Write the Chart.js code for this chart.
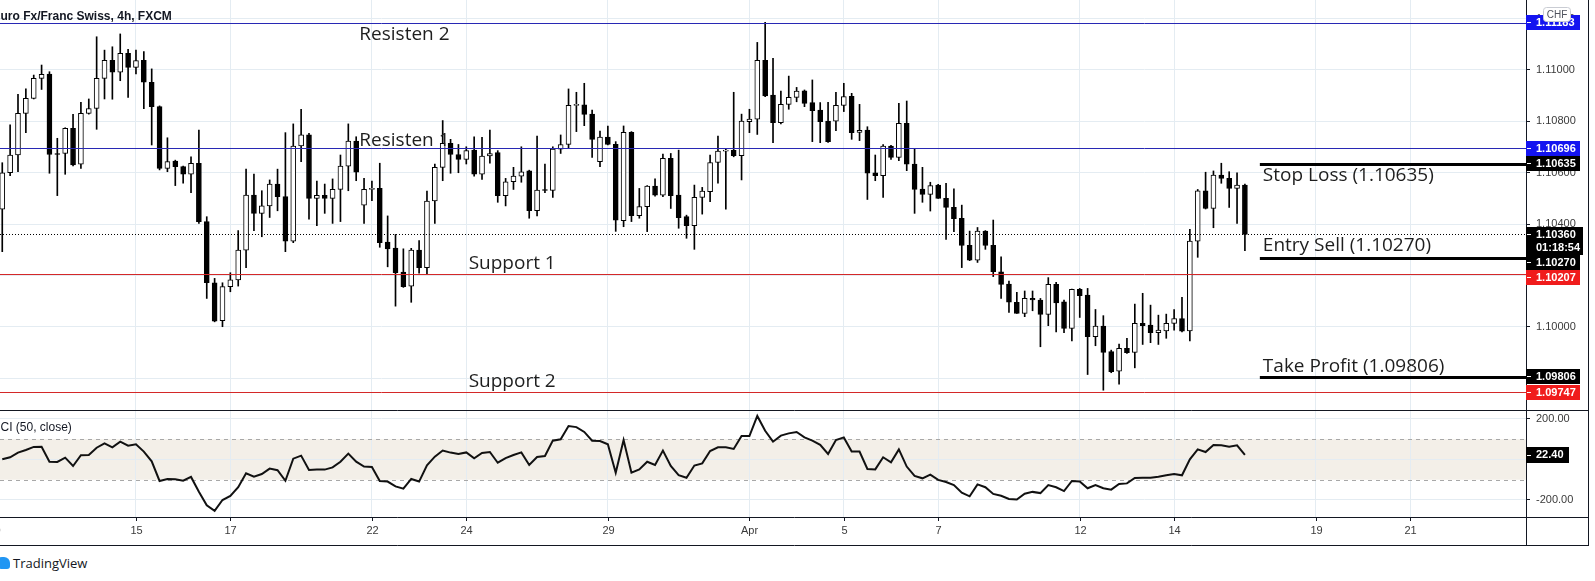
<!DOCTYPE html>
<html>
<head>
<meta charset="utf-8">
<script src="https://cdn.jsdelivr.net/npm/chart.js@4.4.0/dist/chart.umd.min.js"></script>
<style>
  body { margin: 0; background: #fff; width: 1595px; height: 581px; overflow: hidden; position: relative; }
  #main { position: absolute; left: 0; top: 0; }
  #osc { position: absolute; left: 0; top: 410px; }
  #logo { position: absolute; left: -4px; top: 557px; width: 14px; height: 12px; background: #2196f3; border-radius: 6px 6px 3px 6px; }
  #brand { position: absolute; left: 13px; top: 554px; font: 13px "Open Sans", sans-serif; color: #131722; }
</style>
</head>
<body>
<canvas id="main" width="1595" height="410"></canvas>
<canvas id="osc" width="1595" height="136"></canvas>
<div id="logo"></div>
<div id="brand">TradingView</div>
<script>
// EURCHF 4h, FXCM - candles start at the 2nd bar of Mar 10
const barsPerDay = 6;
const firstBar = 1;
const dayLabels = ['10', '15', '17', '22', '24', '29', 'Apr', '5', '7', '12', '14', '19', '21'];
const dayOffsets = [0, 3, 5, 8, 10, 13, 16, 18, 20, 23, 25, 28, 30];

const opens = [
  1.10458, 1.10600, 1.10669, 1.10831, 1.10889, 1.10967, 1.10984, 1.10675, 1.10675, 1.10773,
  1.10633, 1.10831, 1.10850, 1.10967, 1.11037, 1.10991, 1.11065, 1.11010, 1.11037, 1.10952,
  1.10857, 1.10617, 1.10645, 1.10624, 1.10594, 1.10637, 1.10410, 1.10172, 1.10025, 1.10157,
  1.10183, 1.10299, 1.10513, 1.10442, 1.10471, 1.10556, 1.10507, 1.10334, 1.10704, 1.10747,
  1.10500, 1.10512, 1.10500, 1.10535, 1.10626, 1.10723, 1.10474, 1.10535, 1.10539, 1.10330,
  1.10307, 1.10214, 1.10159, 1.10299, 1.10231, 1.10490, 1.10621, 1.10714, 1.10671, 1.10652,
  1.10688, 1.10594, 1.10665, 1.10678, 1.10511, 1.10565, 1.10587, 1.10607, 1.10452, 1.10533,
  1.10531, 1.10692, 1.10710, 1.10862, 1.10864, 1.10828, 1.10643, 1.10739, 1.10711, 1.10414,
  1.10757, 1.10433, 1.10468, 1.10548, 1.10513, 1.10656, 1.10513, 1.10429, 1.10394, 1.10504,
  1.10526, 1.10640, 1.10684, 1.10687, 1.10666, 1.10799, 1.10808, 1.11037, 1.10902, 1.10795,
  1.10866, 1.10893, 1.10919, 1.10873, 1.10844, 1.10801, 1.10801, 1.10862, 1.10897, 1.10757,
  1.10766, 1.10600, 1.10589, 1.10704, 1.10660, 1.10792, 1.10634, 1.10536, 1.10516, 1.10552,
  1.10500, 1.10465, 1.10423, 1.10318, 1.10260, 1.10373, 1.10318, 1.10215, 1.10167, 1.10096,
  1.10053, 1.10111, 1.10105, 1.10049, 1.10166, 1.10098, 1.09994, 1.10146, 1.10124, 1.09962,
  1.10003, 1.09904, 1.09828, 1.09917, 1.09901, 1.10014, 1.10007, 1.09978, 1.09985, 1.10014,
  1.10033, 1.09985, 1.10334, 1.10530, 1.10461, 1.10591, 1.10578, 1.10539, 1.10552
];
const highs = [
  1.10639, 1.10786, 1.10905, 1.10926, 1.10980, 1.11019, 1.10993, 1.10734, 1.10775, 1.10827,
  1.10874, 1.10887, 1.11129, 1.11077, 1.11090, 1.11140, 1.11080, 1.11077, 1.11071, 1.11004,
  1.10860, 1.10736, 1.10649, 1.10626, 1.10662, 1.10766, 1.10429, 1.10189, 1.10172, 1.10211,
  1.10375, 1.10614, 1.10595, 1.10530, 1.10572, 1.10614, 1.10756, 1.10790, 1.10847, 1.10753,
  1.10568, 1.10556, 1.10576, 1.10669, 1.10790, 1.10740, 1.10578, 1.10568, 1.10637, 1.10432,
  1.10360, 1.10304, 1.10306, 1.10336, 1.10529, 1.10634, 1.10803, 1.10730, 1.10710, 1.10701,
  1.10740, 1.10738, 1.10766, 1.10686, 1.10578, 1.10621, 1.10701, 1.10610, 1.10743, 1.10634,
  1.10701, 1.10747, 1.10926, 1.10913, 1.10948, 1.10844, 1.10762, 1.10782, 1.10721, 1.10782,
  1.10760, 1.10539, 1.10550, 1.10576, 1.10673, 1.10675, 1.10688, 1.10435, 1.10552, 1.10543,
  1.10669, 1.10743, 1.10691, 1.10913, 1.10828, 1.10847, 1.11107, 1.11185, 1.11045, 1.10918,
  1.10976, 1.10932, 1.10922, 1.10961, 1.10873, 1.10874, 1.10913, 1.10948, 1.10909, 1.10866,
  1.10779, 1.10669, 1.10710, 1.10707, 1.10870, 1.10879, 1.10695, 1.10621, 1.10563, 1.10555,
  1.10559, 1.10537, 1.10474, 1.10373, 1.10387, 1.10375, 1.10416, 1.10273, 1.10179, 1.10135,
  1.10140, 1.10140, 1.10111, 1.10192, 1.10174, 1.10105, 1.10147, 1.10150, 1.10150, 1.10068,
  1.10044, 1.09910, 1.09933, 1.09956, 1.10089, 1.10131, 1.10085, 1.10046, 1.10050, 1.10068,
  1.10115, 1.10380, 1.10535, 1.10602, 1.10607, 1.10637, 1.10604, 1.10600, 1.10556
];
const lows = [
  1.10293, 1.10589, 1.10604, 1.10756, 1.10887, 1.10924, 1.10598, 1.10511, 1.10594, 1.10627,
  1.10617, 1.10828, 1.10769, 1.10887, 1.10886, 1.10958, 1.10893, 1.10984, 1.10849, 1.10708,
  1.10611, 1.10604, 1.10550, 1.10559, 1.10522, 1.10403, 1.10111, 1.10020, 1.10001, 1.10137,
  1.10159, 1.10231, 1.10375, 1.10351, 1.10426, 1.10452, 1.10293, 1.10328, 1.10643, 1.10419,
  1.10394, 1.10442, 1.10403, 1.10410, 1.10530, 1.10569, 1.10403, 1.10491, 1.10310, 1.10234,
  1.10081, 1.10154, 1.10096, 1.10209, 1.10206, 1.10403, 1.10569, 1.10598, 1.10600, 1.10634,
  1.10587, 1.10574, 1.10637, 1.10485, 1.10471, 1.10535, 1.10563, 1.10423, 1.10432, 1.10522,
  1.10504, 1.10675, 1.10697, 1.10760, 1.10783, 1.10660, 1.10624, 1.10708, 1.10372, 1.10390,
  1.10410, 1.10423, 1.10371, 1.10509, 1.10507, 1.10461, 1.10384, 1.10345, 1.10302, 1.10439,
  1.10487, 1.10559, 1.10458, 1.10662, 1.10572, 1.10756, 1.10749, 1.10896, 1.10717, 1.10790,
  1.10847, 1.10876, 1.10857, 1.10721, 1.10717, 1.10718, 1.10764, 1.10838, 1.10730, 1.10725,
  1.10496, 1.10569, 1.10504, 1.10652, 1.10647, 1.10608, 1.10442, 1.10485, 1.10451, 1.10500,
  1.10341, 1.10371, 1.10231, 1.10258, 1.10251, 1.10302, 1.10196, 1.10111, 1.10057, 1.10053,
  1.10040, 1.10063, 1.09923, 1.10005, 1.09981, 1.09978, 1.09946, 1.10037, 1.09815, 1.09927,
  1.09754, 1.09822, 1.09777, 1.09897, 1.09841, 1.09932, 1.09939, 1.09932, 1.09956, 1.09988,
  1.09981, 1.09946, 1.10271, 1.10459, 1.10386, 1.10559, 1.10465, 1.10403, 1.10297
];
const closes = [
  1.10600, 1.10669, 1.10831, 1.10889, 1.10967, 1.10983, 1.10671, 1.10671, 1.10773, 1.10630,
  1.10831, 1.10850, 1.10967, 1.11037, 1.10991, 1.11065, 1.11010, 1.11036, 1.10952, 1.10857,
  1.10617, 1.10643, 1.10624, 1.10594, 1.10637, 1.10410, 1.10172, 1.10023, 1.10157, 1.10183,
  1.10299, 1.10513, 1.10442, 1.10471, 1.10556, 1.10507, 1.10334, 1.10704, 1.10747, 1.10500,
  1.10512, 1.10500, 1.10535, 1.10626, 1.10723, 1.10602, 1.10535, 1.10538, 1.10328, 1.10304,
  1.10211, 1.10157, 1.10299, 1.10231, 1.10490, 1.10621, 1.10714, 1.10671, 1.10652, 1.10686,
  1.10594, 1.10665, 1.10675, 1.10511, 1.10565, 1.10587, 1.10604, 1.10452, 1.10533, 1.10531,
  1.10692, 1.10710, 1.10862, 1.10865, 1.10827, 1.10730, 1.10739, 1.10710, 1.10415, 1.10757,
  1.10433, 1.10468, 1.10548, 1.10513, 1.10656, 1.10511, 1.10425, 1.10394, 1.10504, 1.10529,
  1.10640, 1.10684, 1.10687, 1.10666, 1.10801, 1.10809, 1.11037, 1.10899, 1.10795, 1.10866,
  1.10893, 1.10918, 1.10870, 1.10841, 1.10799, 1.10721, 1.10862, 1.10896, 1.10756, 1.10765,
  1.10598, 1.10589, 1.10704, 1.10660, 1.10792, 1.10633, 1.10535, 1.10516, 1.10550, 1.10500,
  1.10465, 1.10421, 1.10317, 1.10260, 1.10373, 1.10317, 1.10215, 1.10166, 1.10096, 1.10053,
  1.10111, 1.10105, 1.10049, 1.10166, 1.10094, 1.09994, 1.10146, 1.10122, 1.09962, 1.10003,
  1.09901, 1.09826, 1.09917, 1.09900, 1.10014, 1.10005, 1.09978, 1.09988, 1.10014, 1.10033,
  1.09984, 1.10334, 1.10530, 1.10461, 1.10591, 1.10578, 1.10539, 1.10552, 1.10360
];
const cci = [
  1, 11, 34, 47, 62, 63, -11, -12, 9, -32,
  21, 22, 58, 80, 60, 88, 68, 75, 39, -9,
  -106, -96, -98, -105, -86, -159, -226, -254, -200, -180,
  -137, -68, -85, -72, -45, -53, -105, 4, 19, -52,
  -50, -50, -39, -11, 29, -11, -35, -37, -106, -109,
  -133, -144, -96, -109, -29, 14, 44, 34, 27, 35,
  6, 32, 37, -16, 7, 22, 35, -27, 12, 17,
  93, 100, 165, 160, 136, 93, 91, 75, -65, 96,
  -65, -49, -11, -27, 44, -32, -77, -90, -30, -19,
  42, 60, 60, 52, 116, 116, 215, 142, 88, 118,
  129, 136, 109, 93, 72, 27, 96, 109, 39, 39,
  -47, -49, 11, -14, 50, -35, -81, -93, -75, -101,
  -111, -126, -164, -182, -123, -137, -170, -179, -195, -198,
  -169, -160, -166, -126, -137, -156, -106, -109, -142, -126,
  -142, -149, -121, -118, -91, -90, -90, -85, -78, -72,
  -78, 1, 50, 37, 72, 70, 63, 70, 22.4
];

const resistance = [1.11183, 1.10696];
const resistanceNames = ['Resisten 2', 'Resisten 1'];
const support = [1.10207, 1.09747];
const supportNames = ['Support 1', 'Support 2'];
const tradeLevels = [1.10635, 1.10270, 1.09806];
const tradeNames = ['Stop Loss', 'Entry Sell', 'Take Profit'];
const priceTicks = [1.098, 1.100, 1.102, 1.104, 1.106, 1.108, 1.110, 1.112];
const cciTicks = [-200, 0, 200];
const cciBand = [-100, 100];
const countdown = '01:18:54';

const idx = closes.map((_, k) => firstBar + k);
const lastClose = closes[closes.length - 1];

const X_MIN = 0.712, X_MAX = 194.74;
const gridColor = '#e4ecf2';
const frameColor = '#131722';
const tickText = '#3a3a3a';
const blueLine = '#2828b4', blueBox = '#1414f0';
const redLine = '#d42828', redBox = '#f01c1c';
const annoFont = '19px "Open Sans"';

Chart.defaults.font.family = '"Liberation Sans", Arial, sans-serif';
Chart.defaults.animation = false;

function hline(ctx, py, x0, x1, color, width, dash) {
  ctx.save();
  ctx.strokeStyle = color;
  ctx.lineWidth = width;
  ctx.setLineDash(dash || []);
  const yy = Math.round(py) + 0.5;
  ctx.beginPath();
  ctx.moveTo(x0, yy);
  ctx.lineTo(x1, yy);
  ctx.stroke();
  ctx.restore();
}

function vline(ctx, px, y0, y1, color) {
  ctx.save();
  ctx.strokeStyle = color;
  ctx.lineWidth = 1;
  ctx.beginPath();
  ctx.moveTo(px, y0);
  ctx.lineTo(px, y1);
  ctx.stroke();
  ctx.restore();
}

function priceBox(ctx, x0, top, w, h, bg, lines) {
  ctx.save();
  ctx.fillStyle = bg;
  ctx.fillRect(x0, top, w, h);
  ctx.strokeStyle = '#fff';
  ctx.beginPath();
  ctx.moveTo(x0 + 1, top + 7.5);
  ctx.lineTo(x0 + 5, top + 7.5);
  ctx.stroke();
  ctx.fillStyle = '#fff';
  ctx.font = 'bold 11px "Liberation Sans"';
  ctx.textAlign = 'left';
  ctx.textBaseline = 'middle';
  lines.forEach((t, i) => ctx.fillText(t, x0 + 10, top + 7.5 + i * 13));
  ctx.restore();
}

const mainOverlay = {
  id: 'mainOverlay',
  afterDatasetsDraw(chart) {
    const { ctx, chartArea: { left, right, top, bottom }, scales: { x, y } } = chart;
    ctx.save();
    ctx.beginPath();
    ctx.rect(left, top, right - left, bottom - top);
    ctx.clip();
    resistance.forEach(v => hline(ctx, y.getPixelForValue(v), left, right, blueLine, 1));
    support.forEach(v => hline(ctx, y.getPixelForValue(v), left, right, redLine, 1));
    hline(ctx, y.getPixelForValue(lastClose), left, right, '#000', 1, [1, 2]);
    const tradeX = x.getPixelForValue(160.9);
    tradeLevels.forEach(v => hline(ctx, y.getPixelForValue(v), tradeX, right, '#000', 3));

    ctx.font = annoFont;
    ctx.fillStyle = '#1e1e1e';
    ctx.textAlign = 'left';
    ctx.textBaseline = 'alphabetic';
    const rx = x.getPixelForValue(46.4);
    ctx.fillText(resistanceNames[0], rx, y.getPixelForValue(resistance[0]) + 17);
    ctx.fillText(resistanceNames[1], rx, y.getPixelForValue(resistance[1]) - 2);
    const sx = x.getPixelForValue(60.3);
    support.forEach((v, i) => ctx.fillText(supportNames[i], sx, y.getPixelForValue(v) - 5));
    const shifts = [17, -7, -5];
    tradeLevels.forEach((v, i) => {
      ctx.fillText(tradeNames[i] + ' (' + v.toFixed(5) + ')', tradeX + 3, y.getPixelForValue(v) + shifts[i]);
    });
    ctx.restore();
  },
  afterDraw(chart) {
    const { ctx, chartArea: { right }, scales: { y } } = chart;
    vline(ctx, 1588.5, 0, chart.height, frameColor);

    const boxes = [
      { v: resistance[0], bg: blueBox, w: 54 },
      { v: resistance[1], bg: blueBox, w: 54 },
      { v: tradeLevels[0], bg: '#000', w: 54 },
      { v: lastClose, bg: '#000', w: 57, extra: countdown },
      { v: tradeLevels[1], bg: '#000', w: 54 },
      { v: support[0], bg: redBox, w: 54 },
      { v: tradeLevels[2], bg: '#000', w: 54 },
      { v: support[1], bg: redBox, w: 54 },
    ].map(b => ({ ...b, py: y.getPixelForValue(b.v) })).sort((a, b) => a.py - b.py);
    let prevBottom = -Infinity;
    boxes.forEach(b => {
      const h = b.extra ? 28 : 15;
      const top = Math.max(Math.round(b.py - 7.5), prevBottom);
      const lines = [b.v.toFixed(5)];
      if (b.extra) lines.push(b.extra);
      priceBox(ctx, right, top, b.w, h, b.bg, lines);
      prevBottom = top + h;
    });

    // currency badge
    ctx.save();
    ctx.fillStyle = '#fff';
    ctx.strokeStyle = '#c9ccd3';
    ctx.beginPath();
    ctx.roundRect(1543.5, 7.5, 27, 14, 3);
    ctx.fill();
    ctx.stroke();
    ctx.fillStyle = '#50535e';
    ctx.font = '10px "Liberation Sans"';
    ctx.textAlign = 'center';
    ctx.textBaseline = 'middle';
    ctx.fillText('CHF', 1557, 15);

    // symbol title
    ctx.font = '600 12px "Liberation Sans"';
    ctx.fillStyle = frameColor;
    ctx.textAlign = 'left';
    const title = 'Euro Fx/Franc Swiss, 4h, FXCM';
    ctx.fillText(title, -ctx.measureText('E').width + 0.5, 17);
    ctx.restore();
  }
};

new Chart(document.getElementById('main'), {
  type: 'bar',
  data: {
    datasets: [
      {
        label: 'body',
        data: idx.map((v, k) => ({ x: v, y: [opens[k], closes[k]] })),
        backgroundColor: closes.map((c, k) => (c >= opens[k] ? '#ffffff' : '#000000')),
        borderColor: '#000',
        borderWidth: 1,
        borderSkipped: false,
        barThickness: 5,
        minBarLength: 1,
        grouped: false,
      },
      {
        label: 'wick',
        data: idx.map((v, k) => ({ x: v, y: [lows[k], highs[k]] })),
        backgroundColor: '#000',
        borderWidth: 0,
        barThickness: 1,
        grouped: false,
      },
    ],
  },
  options: {
    responsive: false,
    events: [],
    layout: { padding: { left: 0, top: 0, right: 6, bottom: 0 } },
    plugins: { legend: { display: false }, tooltip: { enabled: false } },
    scales: {
      x: {
        type: 'linear', min: X_MIN, max: X_MAX, offset: false,
        grid: { color: gridColor, drawTicks: false, offset: false },
        border: { display: false },
        ticks: { display: false },
        afterBuildTicks: s => { s.ticks = dayOffsets.map(d => ({ value: d * barsPerDay })); },
        afterFit: s => { s.height = 0; s.paddingLeft = 0; s.paddingRight = 0; },
      },
      y: {
        position: 'right', min: 1.09677, max: 1.11272,
        grid: { color: gridColor, tickColor: frameColor, tickLength: 4 },
        border: { color: frameColor },
        ticks: { padding: 6, color: tickText, font: { size: 11 }, autoSkip: false, callback: v => v.toFixed(5) },
        afterBuildTicks: s => { s.ticks = priceTicks.map(v => ({ value: v })); },
        afterFit: s => { s.width = 63; s.paddingTop = 0; s.paddingBottom = 0; },
      },
    },
  },
  plugins: [mainOverlay],
});

const oscOverlay = {
  id: 'oscOverlay',
  beforeDraw(chart) {
    const { ctx, chartArea: { left, right }, scales: { y } } = chart;
    const t = y.getPixelForValue(cciBand[1]);
    const b = y.getPixelForValue(cciBand[0]);
    ctx.save();
    ctx.fillStyle = '#f3efe8';
    ctx.fillRect(left, t, right - left, b - t);
    ctx.restore();
  },
  beforeDatasetsDraw(chart) {
    const { ctx, chartArea: { left, right }, scales: { y } } = chart;
    cciBand.forEach(v => hline(ctx, y.getPixelForValue(v), left, right, '#a8a8a8', 1, [4, 4]));
  },
  afterDraw(chart) {
    const { ctx, chartArea: { left, right, bottom }, scales: { x, y } } = chart;
    const full = 1589;
    hline(ctx, 0, 0, full, frameColor, 1);
    hline(ctx, bottom, 0, full, frameColor, 1);
    hline(ctx, chart.height - 1, 0, full, frameColor, 1);
    vline(ctx, right + 0.5, 0, chart.height, frameColor);
    vline(ctx, 1588.5, 0, chart.height, frameColor);

    ctx.save();
    ctx.beginPath();
    ctx.rect(0, 0, right, chart.height);
    ctx.clip();
    ctx.font = '11px "Liberation Sans"';
    ctx.fillStyle = tickText;
    ctx.textAlign = 'center';
    ctx.textBaseline = 'middle';
    dayOffsets.forEach((d, i) => {
      const px = Math.round(x.getPixelForValue(d * barsPerDay)) + 0.5;
      vline(ctx, px, bottom, bottom + 4, frameColor);
      ctx.fillText(dayLabels[i], px, bottom + 14);
    });
    ctx.restore();

    // indicator title
    ctx.save();
    ctx.font = '12px "Liberation Sans"';
    ctx.fillStyle = frameColor;
    ctx.textBaseline = 'middle';
    ctx.fillText('CCI (50, close)', -ctx.measureText('C').width + 0.5, 18);
    ctx.restore();

    // last value box
    const last = cci[cci.length - 1];
    const py = Math.round(y.getPixelForValue(last));
    ctx.save();
    ctx.fillStyle = '#000';
    ctx.fillRect(right, py - 8, 43, 16);
    ctx.fillStyle = '#fff';
    ctx.font = 'bold 11px "Liberation Sans"';
    ctx.textBaseline = 'middle';
    ctx.fillText(last.toFixed(2), right + 10, py);
    ctx.strokeStyle = '#fff';
    ctx.beginPath();
    ctx.moveTo(right + 1, py + 0.5);
    ctx.lineTo(right + 5, py + 0.5);
    ctx.stroke();
    ctx.restore();
  }
};

new Chart(document.getElementById('osc'), {
  type: 'line',
  data: {
    datasets: [{
      label: 'CCI',
      data: idx.map((v, k) => ({ x: v, y: cci[k] })),
      borderColor: '#111',
      borderWidth: 2,
      pointRadius: 0,
      tension: 0,
    }],
  },
  options: {
    responsive: false,
    events: [],
    layout: { padding: { left: 0, top: 0, right: 6, bottom: 1 } },
    plugins: { legend: { display: false }, tooltip: { enabled: false } },
    scales: {
      x: {
        type: 'linear', min: X_MIN, max: X_MAX, offset: false,
        grid: { color: gridColor, drawTicks: false },
        border: { display: false },
        ticks: { display: false },
        afterBuildTicks: s => { s.ticks = dayOffsets.map(d => ({ value: d * barsPerDay })); },
        afterFit: s => { s.height = 28; s.paddingLeft = 0; s.paddingRight = 0; },
      },
      y: {
        position: 'right', min: -284, max: 244.4,
        grid: { color: gridColor, tickColor: frameColor, tickLength: 4 },
        border: { color: frameColor },
        ticks: { padding: 6, color: tickText, font: { size: 11 }, autoSkip: false, callback: v => v.toFixed(2) },
        afterBuildTicks: s => { s.ticks = cciTicks.map(v => ({ value: v })); },
        afterFit: s => { s.width = 63; s.paddingTop = 0; s.paddingBottom = 0; },
      },
    },
  },
  plugins: [oscOverlay],
});
</script>
</body>
</html>
